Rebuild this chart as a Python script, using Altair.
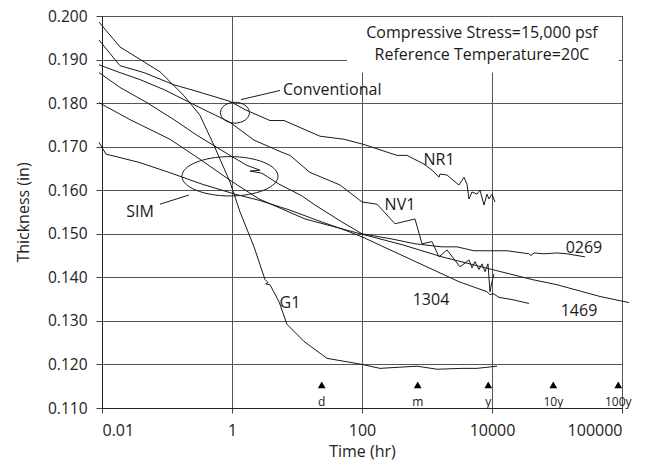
import altair as alt
import pandas as pd

# ---------------- data (time in hours, thickness in inches) ----------------
g1_t = [0.0090, 0.0189, 0.078, 0.183, 0.322, 0.528, 0.931, 1.33, 2.18, 3.22, 3.58, 3.30, 3.84,
        5.29, 7.02, 12.8, 28.9, 93.1, 189, 702, 1426, 3454, 5875, 11940]
g1_v = [0.1986, 0.1929, 0.1872, 0.1817, 0.1772, 0.1703, 0.1619, 0.1550, 0.1470, 0.1395, 0.1388, 0.1385, 0.1383,
        0.1344, 0.1292, 0.1253, 0.1214, 0.1201, 0.1191, 0.1196, 0.1189, 0.1191, 0.1191, 0.1196]

nr1_t = [0.0090, 0.0189, 0.0443, 0.128, 0.260, 0.931, 1.585, 3.84, 6.31, 22.6, 52.8, 107, 345, 492,
         899, 1194, 1530, 1585, 2031, 2424, 3105, 3710, 4124, 4427, 4922, 5875, 6537, 7534, 8375,
         8995, 10000, 11120]
nr1_v = [0.1945, 0.1886, 0.1870, 0.1842, 0.1829, 0.1804, 0.1785, 0.1760, 0.1760, 0.1724, 0.1717, 0.1705,
         0.1680, 0.1680, 0.1660, 0.1646, 0.1630, 0.1637, 0.1635, 0.1625, 0.1612, 0.1630, 0.1614, 0.1580,
         0.1596, 0.1591, 0.1600, 0.1566, 0.1591, 0.1580, 0.1591, 0.1573]

nv1_t = [0.0090, 0.0189, 0.0384, 0.0899, 0.183, 0.371, 0.931, 2.18, 5.88, 7.80, 15.8, 45.9, 100, 170,
         322, 653, 838, 1194, 1530, 2031, 3220, 4427, 4922, 5475, 6310, 7017, 7800, 8670, 9310,
         10000, 10730]
nv1_v = [0.1888, 0.1870, 0.1854, 0.1831, 0.1808, 0.1785, 0.1756, 0.1715, 0.1687, 0.1680, 0.1641, 0.1612,
         0.1573, 0.1568, 0.1523, 0.1534, 0.1477, 0.1482, 0.1447, 0.1463, 0.1424, 0.1440, 0.1422, 0.1436,
         0.1418, 0.1431, 0.1413, 0.1431, 0.1367, 0.1390, 0.1408]

s0269_t = [0.0090, 0.0189, 0.0492, 0.128, 0.290, 0.931, 1.70, 2.70, 1.89, 2.89, 5.29, 11.9, 18.9, 49.2,
           100, 289, 653, 1702, 2894, 5285, 10000, 17000, 37100, 39800, 44300, 63100, 100000, 142600, 270000]
s0269_v = [0.1870, 0.1836, 0.1801, 0.1762, 0.1726, 0.1680, 0.1657, 0.1646, 0.1644, 0.1639, 0.1614, 0.1587,
           0.1566, 0.1527, 0.1500, 0.1488, 0.1477, 0.1470, 0.1470, 0.1461, 0.1461, 0.1461, 0.1454, 0.1450,
           0.1456, 0.1454, 0.1456, 0.1454, 0.1447]

s1469_t = [0.0090, 0.0270, 0.111, 0.322, 0.931, 2.60, 13.3, 100, 412, 1702, 10000, 41200, 100000,
           459000, 1282000]
s1469_v = [0.1801, 0.1762, 0.1717, 0.1671, 0.1623, 0.1580, 0.1534, 0.1499, 0.1475, 0.1447, 0.1418,
           0.1395, 0.1383, 0.1356, 0.1342]

s1304_t = [0.0090, 0.0115, 0.0371, 0.107, 0.345, 1.11, 2.60, 7.53, 24.2, 49.2, 100, 528, 3105, 8375,
           9310, 10360, 12820, 20300, 37100]
s1304_v = [0.1710, 0.1683, 0.1664, 0.1641, 0.1614, 0.1591, 0.1577, 0.1555, 0.1527, 0.1511, 0.1493,
           0.1443, 0.1390, 0.1367, 0.1360, 0.1363, 0.1354, 0.1349, 0.1340]

series = {"G1": (g1_t, g1_v), "NR1": (nr1_t, nr1_v), "NV1": (nv1_t, nv1_v),
          "0269": (s0269_t, s0269_v), "1469": (s1469_t, s1469_v), "1304": (s1304_t, s1304_v)}

# curve labels
lab_text = ["NR1", "NV1", "G1", "1304", "0269", "1469"]
lab_t = [1530, 384, 7.8, 1152, 260000, 218000]
lab_v = [0.1669, 0.1566, 0.1340, 0.1349, 0.1468, 0.1322]

# group annotations
grp_text = ["Conventional", "SIM"]
grp_t = [6.09, 0.0384]
grp_v = [0.1829, 0.1550]
lead_t1 = [1.375, 0.078]
lead_v1 = [0.1808, 0.1568]
lead_t2 = [5.48, 0.218]
lead_v2 = [0.1829, 0.1589]
ell_t = [1.11, 0.93]
ell_v = [0.1778, 0.1632]

# time markers
mark_text = ["d", "m", "y", "10y", "100y"]
mark_t = [24, 720, 8760, 87600, 876000]
mark_v = 0.1153
mark_lab_v = 0.1114

# info box
box_lines = ["Compressive Stress=15,000 psf", "Reference Temperature=20C"]
box_line_v = [0.1961, 0.1911]
box_t = [58.8, 899000]
box_v = [0.1997, 0.1870]
box_center_t = 7017

# axes
x_ticks = [0.01, 1, 100, 10000, 1000000]
x_tick_labels = ["0.01", "1", "100", "10000", "100000"]
y_ticks = [0.11, 0.12, 0.13, 0.14, 0.15, 0.16, 0.17, 0.18, 0.19, 0.20]

# ---------------- build tables ----------------
rows = []
for name, (ts, vs) in series.items():
    for i, (t, v) in enumerate(zip(ts, vs)):
        rows.append({"series": name, "t": t, "v": v, "i": i})
df = pd.DataFrame(rows)

labels_df = pd.DataFrame({"t": lab_t, "v": lab_v, "txt": lab_text})
grp_df = pd.DataFrame({"t": grp_t, "v": grp_v, "txt": grp_text})
lead_df = pd.DataFrame({"t": lead_t1, "v": lead_v1, "t2": lead_t2, "v2": lead_v2})
ell_conv = pd.DataFrame({"t": [ell_t[0]], "v": [ell_v[0]]})
ell_sim = pd.DataFrame({"t": [ell_t[1]], "v": [ell_v[1]]})
mk_df = pd.DataFrame({"t": mark_t, "v": [mark_v] * len(mark_t), "txt": mark_text})
mkl_df = pd.DataFrame({"t": mark_t, "v": [mark_lab_v] * len(mark_t), "txt": mark_text})
box_df = pd.DataFrame({"t": [box_t[0]], "t2": [box_t[1]], "v": [box_v[1]], "v2": [box_v[0]]})
boxt_df = pd.DataFrame({"t": [box_center_t] * 2, "v": box_line_v, "txt": box_lines})

xscale = alt.Scale(type="log", domain=[0.01, 1000000], nice=False)
yscale = alt.Scale(domain=[0.11, 0.2], nice=False, zero=False)

label_expr = "{}[indexof({}, datum.value)]".format(
    "[" + ",".join("'%s'" % s for s in x_tick_labels) + "]",
    "[" + ",".join(str(v) for v in x_ticks) + "]")

xaxis = alt.Axis(values=x_ticks, labelExpr=label_expr, tickSize=5, labelPadding=9,
                 titlePadding=5, grid=True)
yaxis = alt.Axis(values=y_ticks, format=".3f", tickSize=6, labelPadding=9, labelFontSize=15.5,
                 titlePadding=16, grid=True)


def X(field="t"):
    return alt.X(field + ":Q", scale=xscale, axis=xaxis, title="Time (hr)")


def Y(field="v"):
    return alt.Y(field + ":Q", scale=yscale, axis=yaxis, title="Thickness (in)")


INK = "#1a1a1a"
FONT = "Open Sans"

lines = alt.Chart(df).mark_line(color=INK, strokeWidth=1).encode(
    x=X(), y=Y(), detail="series:N", order="i:Q")

box = alt.Chart(box_df).mark_rect(fill="white").encode(
    x=X(), x2="t2:Q", y=Y(), y2="v2:Q")

box_text = alt.Chart(boxt_df).mark_text(font=FONT, fontSize=16, color=INK).encode(
    x=X(), y=Y(), text="txt:N")

curve_labels = alt.Chart(labels_df).mark_text(font=FONT, fontSize=16, color=INK).encode(
    x=X(), y=Y(), text="txt:N")

conv_label = alt.Chart(grp_df.iloc[[0]]).mark_text(font=FONT, fontSize=16, color=INK,
                                                  align="left").encode(
    x=X(), y=Y(), text="txt:N")
sim_label = alt.Chart(grp_df.iloc[[1]]).mark_text(font=FONT, fontSize=16, color=INK,
                                                 align="center").encode(
    x=X(), y=Y(), text="txt:N")

leaders = alt.Chart(lead_df).mark_rule(color=INK, strokeWidth=1).encode(
    x=X(), y=Y(), x2="t2:Q", y2="v2:Q")

ellipse_path = "M -1 0 A 1 {r} 0 1 0 1 0 A 1 {r} 0 1 0 -1 0 Z"
conv_ell = alt.Chart(ell_conv).mark_point(
    shape=ellipse_path.format(r=0.72), size=841, filled=False, color=INK, strokeWidth=1,
    opacity=1).encode(x=X(), y=Y())
sim_ell = alt.Chart(ell_sim).mark_point(
    shape=ellipse_path.format(r=0.41), size=9216, filled=False, color=INK, strokeWidth=1,
    opacity=1).encode(x=X(), y=Y())

markers = alt.Chart(mk_df).mark_point(shape="triangle-up", size=60, filled=True, color="black",
                                      opacity=1).encode(x=X(), y=Y())
marker_labels = alt.Chart(mkl_df).mark_text(font=FONT, fontSize=12, color=INK).encode(
    x=X(), y=Y(), text="txt:N")

chart = alt.layer(
    box, lines, box_text, curve_labels, conv_label, sim_label, leaders, conv_ell, sim_ell,
    markers, marker_labels
).properties(
    width=520, height=392,
    autosize=alt.AutoSizeParams(type="none"),
    padding={"left": 94, "top": 8, "right": 30, "bottom": 54},
    background="white",
).configure_view(
    stroke="#222", strokeWidth=1
).configure_axis(
    gridColor="#555", gridWidth=1, domainColor="#222", tickColor="#444",
    labelFont=FONT, labelFontSize=16, labelColor="#222",
    titleFont=FONT, titleFontSize=16, titleFontWeight="normal", titleColor="#222",
)

chart.save("out.html", embed_options={"renderer": "svg", "actions": False})
